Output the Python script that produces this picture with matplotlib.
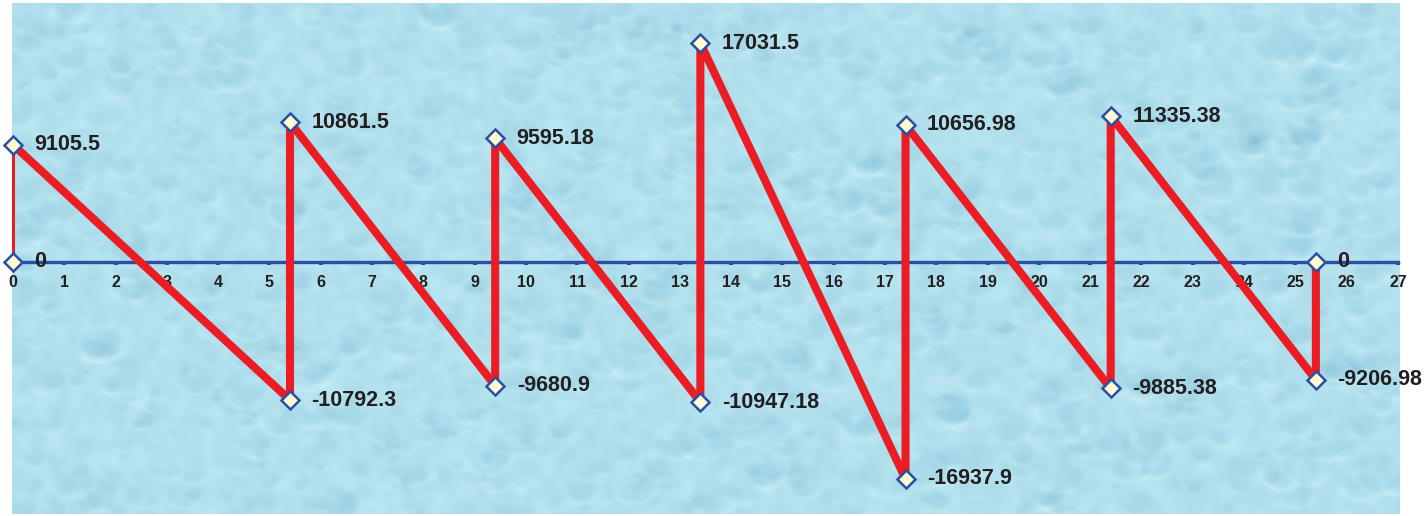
import numpy as np
import matplotlib
matplotlib.use("Agg")
import matplotlib.pyplot as plt

# Shear force diagram: station positions (m) and shear values
stations = [0, 0, 5.4, 5.4, 9.4, 9.4, 13.4, 13.4, 17.4, 17.4, 21.4, 21.4, 25.4, 25.4]
shear = [0, 9105.5, -10792.3, 10861.5, -9680.9, 9595.18, -10947.18, 17031.5,
         -16937.9, 10656.98, -9885.38, 11335.38, -9206.98, 0]
labels = ["0", "9105.5", "-10792.3", "10861.5", "-9680.9", "9595.18", "-10947.18",
          "17031.5", "-16937.9", "10656.98", "-9885.38", "11335.38", "-9206.98", "0"]
x_ticks = list(range(0, 28))

W, H, DPI = 1427, 516, 100
fig = plt.figure(figsize=(W / DPI, H / DPI), dpi=DPI)
fig.patch.set_facecolor("white")

ax_l, ax_r, ax_t, ax_b = 12, 1400, 3, 514
ax = fig.add_axes([ax_l / W, (H - ax_b) / H, (ax_r - ax_l) / W, (ax_b - ax_t) / H])
xlim = (-0.02, 27.04)
ylim = (-19665, 20148)
ax.set_xlim(*xlim)
ax.set_ylim(*ylim)

# ---- water-droplet backdrop ----
tw, th = ax_r - ax_l, ax_b - ax_t
rng = np.random.default_rng(7)
base = np.array([178, 224, 237], dtype=float) / 255.0
img = np.ones((th, tw, 3)) * base

# soft large-scale variation
noise = rng.standard_normal((th, tw))
fy = np.fft.fftfreq(th)[:, None]
fx = np.fft.fftfreq(tw)[None, :]
sig = 0.035
smooth = np.real(np.fft.ifft2(np.fft.fft2(noise) * np.exp(-(fx**2 + fy**2) / (2 * sig**2))))
smooth /= np.abs(smooth).max()
img += smooth[..., None] * np.array([0.05, 0.04, 0.03])

yy, xx = np.mgrid[0:th, 0:tw]
shade = np.zeros((th, tw))
for _ in range(900):
    cx, cy = rng.uniform(0, tw), rng.uniform(0, th)
    rx = rng.uniform(5, 24)
    ry = rx * rng.uniform(0.55, 0.95)
    x0, x1 = int(max(cx - rx - 3, 0)), int(min(cx + rx + 3, tw))
    y0, y1 = int(max(cy - ry - 3, 0)), int(min(cy + ry + 3, th))
    if x1 <= x0 or y1 <= y0:
        continue
    dx = (xx[y0:y1, x0:x1] - cx) / rx
    dy = (yy[y0:y1, x0:x1] - cy) / ry
    r = np.sqrt(dx**2 + dy**2)
    inside = r < 1
    # darker body, lighter lower rim, bright highlight at upper-left
    body = np.where(inside, -0.55 * (1 - r**2) ** 0.5, 0.0)
    rim = np.exp(-((r - 1.0) / 0.18) ** 2) * np.clip(dy + 0.2, 0, None) * 0.5
    hl = np.exp(-(((dx + 0.35) / 0.3) ** 2 + ((dy + 0.4) / 0.25) ** 2)) * 0.6
    shade[y0:y1, x0:x1] += body + rim + hl
shade = np.real(np.fft.ifft2(np.fft.fft2(shade) * np.exp(-(fx**2 + fy**2) / (2 * 0.12**2))))
img += shade[..., None] * np.array([0.06, 0.04, 0.026])
img = np.clip(img, 0, 1)
ax.imshow(img, extent=(xlim[0], xlim[1], ylim[0], ylim[1]), aspect="auto",
          origin="upper", zorder=0, interpolation="bilinear")

# ---- axis ----
blue = "#2b4fa3"
for s in ("top", "right", "left"):
    ax.spines[s].set_visible(False)
ax.spines["bottom"].set_position(("data", 0))
ax.spines["bottom"].set_color(blue)
ax.spines["bottom"].set_linewidth(2.4)
ax.spines["bottom"].set_bounds(0, 27)
ax.spines["bottom"].set_zorder(2)
ax.set_xticks(x_ticks)
ax.set_xticklabels([str(t) for t in x_ticks])
ax.tick_params(axis="x", direction="out", length=2.5, width=3, color=blue, pad=7.5,
               labelsize=11.5, labelcolor="#231f20")
for lbl in ax.get_xticklabels():
    lbl.set_fontweight("bold")
    lbl.set_fontfamily("Liberation Sans")
ax.set_yticks([])

# ---- shear diagram ----
red = "#ec1c24"
ax.plot(stations[:2], shear[:2], color=red, lw=2.2, zorder=3, solid_capstyle="butt")
ax.plot(stations[1:], shear[1:], color=red, lw=5.8, zorder=3,
        solid_joinstyle="round", solid_capstyle="butt", clip_on=False)
ax.plot(stations, shear, linestyle="none", marker="D", markersize=9.5,
        markerfacecolor="#fffbd2", markeredgecolor=blue, markeredgewidth=1.8,
        zorder=5, clip_on=False)

for xs, ys, txt in zip(stations, shear, labels):
    ax.annotate(txt, (xs, ys), xytext=(15.5, 0), textcoords="offset points",
                ha="left", va="center", fontsize=15.5, fontweight="bold",
                family="Liberation Sans", color="#231f20", zorder=6,
                annotation_clip=False)

fig.savefig("out.png", dpi=DPI)
